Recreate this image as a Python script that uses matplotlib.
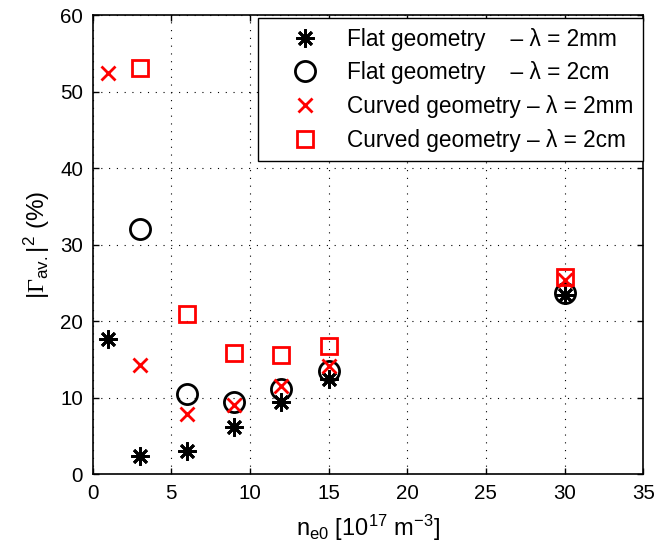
import matplotlib
matplotlib.use("Agg")
import matplotlib.pyplot as plt

plt.rcParams['font.family'] = ['Liberation Sans', 'DejaVu Sans']
plt.rcParams['mathtext.fontset'] = 'custom'
plt.rcParams['mathtext.rm'] = 'Liberation Sans'
plt.rcParams['mathtext.it'] = 'Liberation Sans:italic'
plt.rcParams['mathtext.sf'] = 'Liberation Sans'
plt.rcParams['mathtext.cal'] = 'Liberation Serif'

# density n_e0 [1e17 m^-3] and |Gamma_av|^2 (%)
flat_2mm_x = [1, 3, 6, 9, 12, 15, 30]
flat_2mm_y = [17.7, 2.4, 3.0, 6.2, 9.5, 12.5, 23.5]
flat_2cm_x = [3, 6, 9, 12, 15, 30]
flat_2cm_y = [32.0, 10.5, 9.4, 11.2, 13.5, 23.7]
curved_2mm_x = [1, 3, 6, 9, 12, 15, 30]
curved_2mm_y = [52.4, 14.3, 7.9, 9.1, 11.5, 14.2, 25.4]
curved_2cm_x = [3, 6, 9, 12, 15, 30]
curved_2cm_y = [53.1, 21.0, 15.9, 15.6, 16.8, 25.8]

labels = ["Flat geometry    \u2013 \u03bb = 2mm",
          "Flat geometry    \u2013 \u03bb = 2cm",
          "Curved geometry \u2013 \u03bb = 2mm",
          "Curved geometry \u2013 \u03bb = 2cm"]

fig = plt.figure(figsize=(6.6, 5.56), dpi=100)
ax = fig.add_axes([0.1405, 0.1468, 0.834, 0.826])

ax.plot(flat_2mm_x, flat_2mm_y, ls='none', marker=(8, 2, 0), ms=13, mew=2,
        color='black', label=labels[0])
ax.plot(flat_2cm_x, flat_2cm_y, ls='none', marker='o', ms=14.5, mew=2,
        mfc='none', mec='black', label=labels[1])
ax.plot(curved_2mm_x, curved_2mm_y, ls='none', marker='x', ms=10.5, mew=2,
        color='red', label=labels[2])
ax.plot(curved_2cm_x, curved_2cm_y, ls='none', marker='s', ms=11, mew=2,
        mfc='none', mec='red', label=labels[3])

ax.set_xlim(0, 35)
ax.set_ylim(0, 60)
ax.set_xticks(range(0, 36, 5))
ax.set_yticks(range(0, 61, 10))
ax.grid(True, color='black', linestyle=(0, (1, 6)), linewidth=0.8)
ax.tick_params(direction='in', length=4, width=1, top=True, right=True,
               labelsize=14.8, pad=7)
for s in ax.spines.values():
    s.set_linewidth(1.2)

ax.set_xlabel(r'$\mathregular{n_{e0}}$ [10$^{\mathregular{17}}$ m$^{\mathregular{-3}}$]',
              fontsize=17)
ax.xaxis.set_label_coords(0.5, -0.083)
ax.set_ylabel(r'$|\mathcal{\Gamma}_{\mathregular{av.}}|^{\mathregular{2}}$ (%)',
              fontsize=17.5, labelpad=6)

leg = ax.legend(loc='upper right', bbox_to_anchor=(1.0, 1 - 3 / 459),
                borderaxespad=0, fancybox=False, edgecolor='black',
                framealpha=1, fontsize=16.3, numpoints=1, borderpad=0.42,
                handlelength=3.3, handletextpad=0.22, labelspacing=0.47)
leg.get_frame().set_linewidth(1)

fig.savefig('out.png', dpi=100)
